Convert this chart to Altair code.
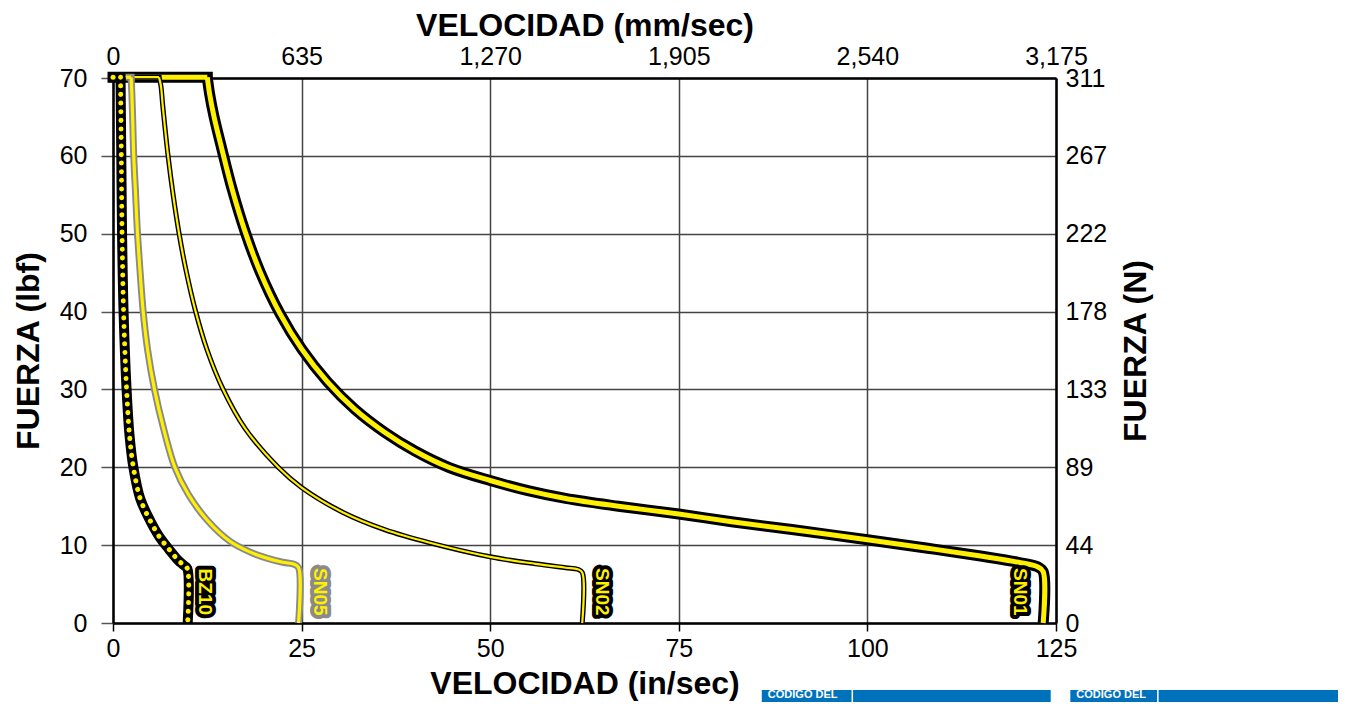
import altair as alt
import pandas as pd

# ---------------- data ----------------
# each curve: flat top at ~70 lbf from x=0 to the first point below, then the curve
top_start_x = [0.0, 0.0, 0.0, 0.0]
top_y = 70.1

sn01_x = [12.5, 12.8, 13.4, 14.4, 15.8, 17.5, 19.5, 22.1, 25.0, 28.4, 32.0, 36.0, 40.0, 44.5, 50, 55, 60, 67, 75, 82, 90, 100, 108, 115, 120, 122.6, 123.3, 123.3]
sn01_y = [70.1, 68.0, 65.0, 61.0, 55.7, 50.3, 45.1, 39.8, 35.2, 31.0, 27.5, 24.5, 22.1, 20.0, 18.3, 17.0, 16.0, 15.0, 14.0, 13.0, 12.0, 10.7, 9.6, 8.6, 7.8, 7.2, 6.6, 0]

sn02_x = [6.1, 6.35, 6.6, 7.3, 8.0, 8.8, 9.7, 10.9, 12.5, 14.6, 17.5, 21.9, 25.0, 30.5, 36, 42, 50, 56, 60, 61.6, 62.2, 62.2]
sn02_y = [70.1, 69.0, 66.4, 60.0, 54.8, 49.8, 45.2, 40.2, 35.0, 30.0, 25.0, 20.0, 17.4, 14.2, 12.0, 10.3, 8.5, 7.6, 7.1, 6.9, 6.5, 0]

sn05_x = [2.4, 2.5, 2.6, 2.75, 3.0, 3.25, 3.6, 4.0, 4.6, 5.5, 6.7, 8.2, 10.0, 12.5, 15.5, 18.2, 20.5, 22.5, 24.0, 24.6, 24.6]
sn05_y = [70.1, 68.0, 65.0, 60.0, 55.0, 50.0, 45.0, 40.0, 35.0, 30.0, 25.0, 20.0, 16.5, 13.2, 10.5, 9.1, 8.3, 7.8, 7.55, 7.1, 0]

bz10_x = [1.0, 1.05, 1.1, 1.2, 1.4, 1.8, 2.2, 2.7, 3.6, 4.9, 6.2, 7.4, 8.6, 9.4, 9.85, 9.9]
bz10_y = [70.1, 65, 60, 50, 40, 30, 24, 20, 16, 13.2, 11, 9.5, 8.1, 7.4, 7.0, 0]

curve_names = ["SN01", "SN02", "SN05", "BZ10"]

label_names = ["BZ10", "SN05", "SN02", "SN01"]
label_x = [12.2, 27.4, 64.8, 120.2]
label_y = [4.0, 4.0, 4.0, 4.0]
label_halo = ["black", "#8a8a8a", "black", "black"]

x_ticks = [0, 25, 50, 75, 100, 125]
y_ticks = [0, 10, 20, 30, 40, 50, 60, 70]

# decorative table headers below the chart (cut off by the page edge)
table_x0 = [86.0, 126.9]
table_x1 = [124.3, 163.4]
table_text = ["CÓDIGO DEL", "CÓDIGO DEL"]
table_text_x = [86.8, 127.7]
table_div_x = [98.0, 138.5]

# ---------------- build tables ----------------
rows, tops = [], []
for name, t0, xs_, ys_ in zip(curve_names, top_start_x,
                              [sn01_x, sn02_x, sn05_x, bz10_x],
                              [sn01_y, sn02_y, sn05_y, bz10_y]):
    for i, (x, y) in enumerate(zip(xs_, ys_)):
        rows.append({"curve": name, "i": i, "v": x, "f": y})
    tops.append({"curve": name, "i": 0, "v": t0, "f": top_y})
    tops.append({"curve": name, "i": 1, "v": xs_[0], "f": top_y})
df = pd.DataFrame(rows)
tops_df = pd.DataFrame(tops)

labels_df = pd.DataFrame({"name": label_names, "v": label_x, "f": label_y, "halo": label_halo})
axes_df = pd.DataFrame({"v": [0, 125], "f": [0, 70]})
tables_df = pd.DataFrame({"x0": table_x0, "x1": table_x1, "t": table_text, "tx": table_text_x,
                          "dx": table_div_x, "y0": [-8.6, -8.6], "y1": [-16.0, -16.0],
                          "ty": [-9.6, -9.6]})

LABEL_FONT = "Liberation Sans Narrow, Arial Narrow, Liberation Sans, Arial, sans-serif"
BOLD = "Liberation Sans, Arial, sans-serif"
YELLOW = "#FFF000"
GREY = "#8a8a8a"
LSIZE = 25

xs = alt.Scale(domain=[0, 125], nice=False, zero=False)
ys = alt.Scale(domain=[0, 70], nice=False, zero=False)

bottom_axis = alt.Axis(orient="bottom", values=x_ticks, title="VELOCIDAD (in/sec)",
                       labelFont=LABEL_FONT, labelFontSize=LSIZE, labelColor="black", labelFlush=False,
                       labelPadding=5, tickSize=8, tickColor="black", tickWidth=1.5,
                       domainColor="black", domainWidth=2.5, grid=True, gridColor="#444", gridWidth=1.5,
                       titleFont=BOLD, titleFontSize=32, titleFontWeight="bold", titleColor="black",
                       titlePadding=7)
left_axis = alt.Axis(orient="left", values=y_ticks, title="FUERZA (lbf)",
                     labelFont=LABEL_FONT, labelFontSize=LSIZE, labelColor="black", labelFlush=False,
                     labelPadding=14, tickSize=12, tickColor="#555", tickWidth=1.5,
                     domainColor="black", domainWidth=2.5, grid=True, gridColor="#444", gridWidth=1.5,
                     titleFont=BOLD, titleFontSize=32, titleFontWeight="bold", titleColor="black",
                     titlePadding=14)
top_axis = alt.Axis(orient="top", values=x_ticks, title="VELOCIDAD (mm/sec)",
                    labelExpr="format(round(datum.value*25.4), ',')",
                    labelFont=LABEL_FONT, labelFontSize=LSIZE, labelColor="black", labelFlush=False,
                    labelPadding=9, ticks=False, grid=False,
                    domainColor="black", domainWidth=2.5,
                    titleFont=BOLD, titleFontSize=32, titleFontWeight="bold", titleColor="black",
                    titlePadding=2)
right_axis = alt.Axis(orient="right", values=y_ticks, title="FUERZA (N)", titleAngle=270,
                      labelExpr="format(round(datum.value*4.448), 'd')",
                      labelFont=LABEL_FONT, labelFontSize=LSIZE, labelColor="black", labelFlush=False,
                      labelPadding=9, ticks=False, grid=False,
                      domainColor="black", domainWidth=2.5,
                      titleFont=BOLD, titleFontSize=32, titleFontWeight="bold", titleColor="black",
                      titlePadding=46)


def line(src, name, color, width, interp, first=False, **kw):
    return alt.Chart(src).transform_filter(alt.datum.curve == name).mark_line(
        color=color, strokeWidth=width, interpolate=interp,
        strokeJoin="round", clip=False, **kw
    ).encode(
        x=alt.X("v:Q", scale=xs, axis=bottom_axis if first else None),
        y=alt.Y("f:Q", scale=ys, axis=left_axis if first else None),
        order="i:Q",
    )


def curve(name, outer, ow, inner, iw, first=False, inner_kw=None):
    inner_kw = inner_kw or {"strokeCap": "butt"}
    return [
        line(tops_df, name, outer, ow, "linear", first=first, strokeCap="square"),
        line(df, name, outer, ow, "catmull-rom", strokeCap="butt"),
        line(tops_df, name, inner, iw, "linear", **inner_kw),
        line(df, name, inner, iw, "catmull-rom", **inner_kw),
    ]


axes_layer = alt.Chart(axes_df).mark_point(opacity=0).encode(
    x=alt.X("v:Q", scale=xs, axis=top_axis),
    y=alt.Y("f:Q", scale=ys, axis=right_axis),
)

layers = (
    curve("SN01", "black", 11, YELLOW, 5, first=True)
    + curve("SN02", "black", 5, YELLOW, 2.2)
    + curve("SN05", GREY, 7, YELLOW, 3.2)
    + curve("BZ10", "black", 10, YELLOW, 5,
            inner_kw={"strokeCap": "round", "strokeDash": [0.1, 8.5]})
)

halo = alt.Chart(labels_df).mark_text(
    angle=90, align="center", baseline="middle", font=BOLD, fontSize=19, fontWeight="bold",
    strokeWidth=8, strokeJoin="round"
).encode(
    x=alt.X("v:Q", scale=xs, axis=None), y=alt.Y("f:Q", scale=ys, axis=None),
    text="name:N", stroke=alt.Stroke("halo:N", scale=None), fill=alt.Fill("halo:N", scale=None),
)
label_text = alt.Chart(labels_df).mark_text(
    angle=90, align="center", baseline="middle", font=BOLD, fontSize=19, fontWeight="bold",
    color=YELLOW
).encode(
    x=alt.X("v:Q", scale=xs, axis=None), y=alt.Y("f:Q", scale=ys, axis=None), text="name:N",
)

table_box = alt.Chart(tables_df).mark_rect(color="#0072BC", clip=False).encode(
    x=alt.X("x0:Q", scale=xs, axis=None), x2="x1:Q",
    y=alt.Y("y0:Q", scale=ys, axis=None), y2="y1:Q",
)
table_div = alt.Chart(tables_df).mark_rule(color="white", strokeWidth=1.5).encode(
    x=alt.X("dx:Q", scale=xs, axis=None),
    y=alt.Y("y0:Q", scale=ys, axis=None), y2="y1:Q",
)
table_lbl = alt.Chart(tables_df).mark_text(
    align="left", baseline="alphabetic", font=BOLD, fontSize=11, fontWeight="bold", color="white"
).encode(
    x=alt.X("tx:Q", scale=xs, axis=None), y=alt.Y("ty:Q", scale=ys, axis=None), text="t:N",
)

chart = alt.layer(
    *layers, halo, label_text, axes_layer, table_box, table_div, table_lbl
).resolve_axis(
    x="independent", y="independent"
).properties(
    width=943, height=545,
    padding={"left": 105, "top": 70, "right": 282, "bottom": 79},
    autosize=alt.AutoSizeParams(type="none"),
).configure_view(stroke=None)

chart.save("out.html", embed_options={"renderer": "svg", "actions": False})
